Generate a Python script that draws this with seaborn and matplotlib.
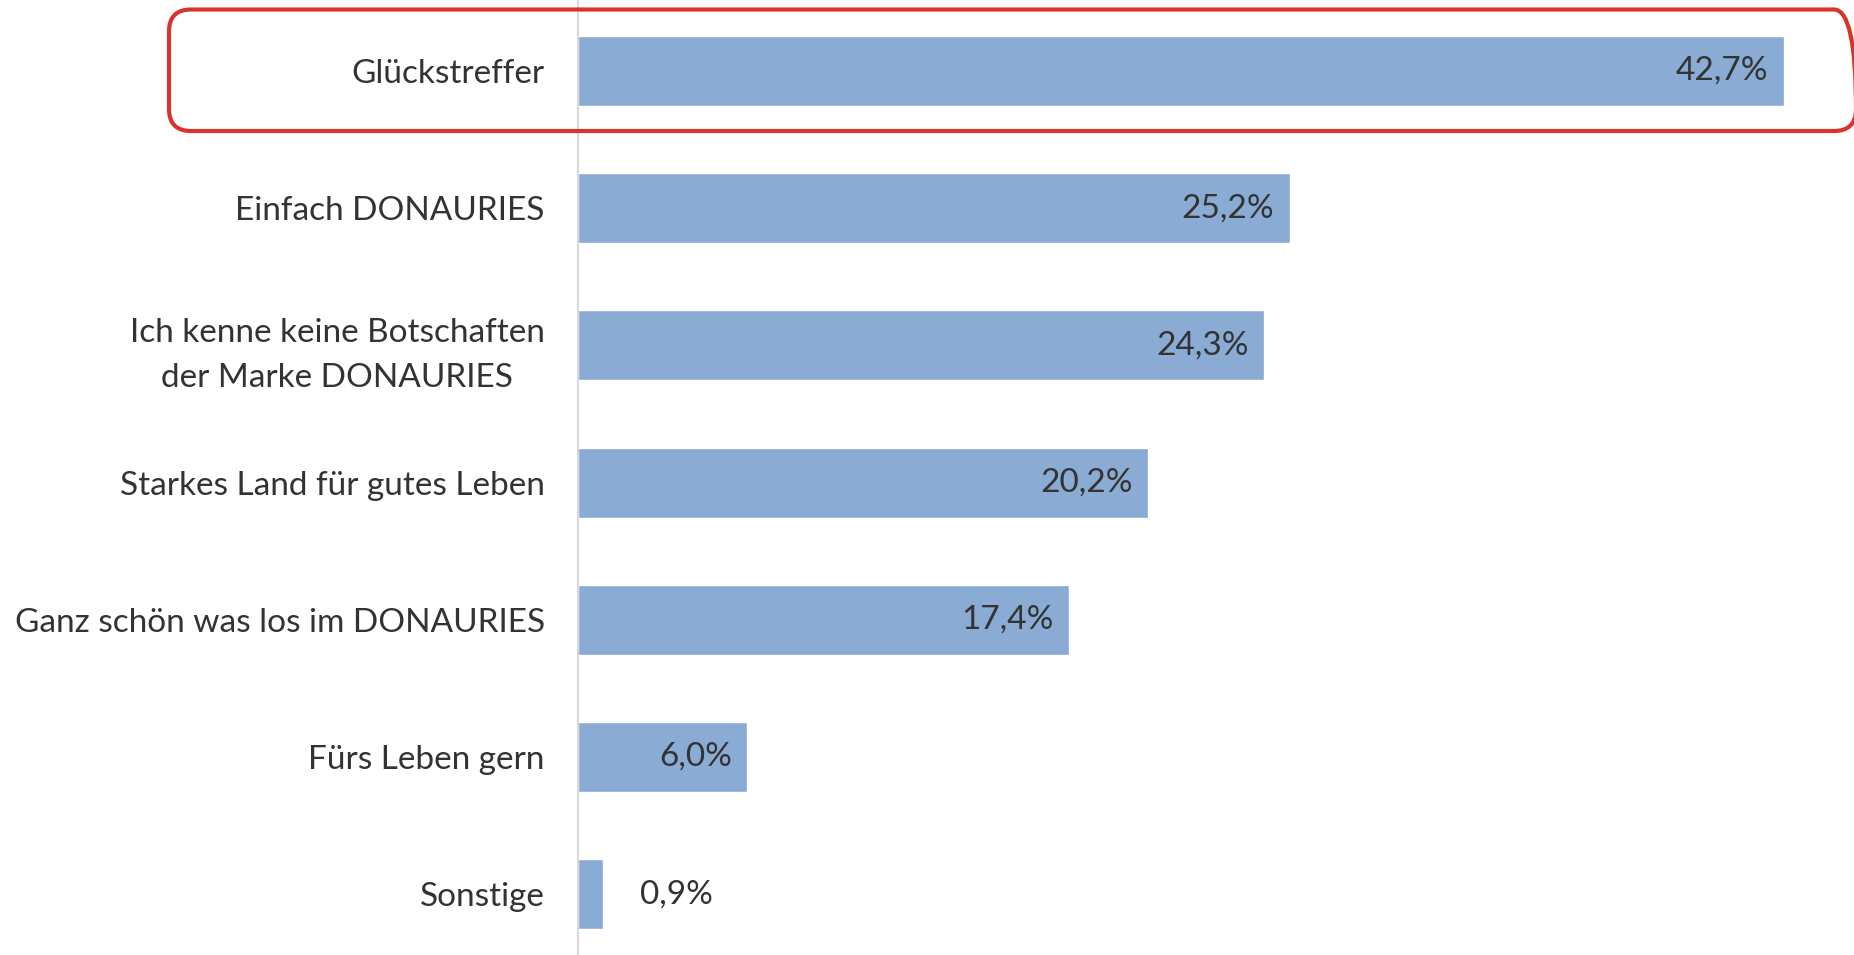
import matplotlib
matplotlib.use("Agg")
import matplotlib.pyplot as plt
import seaborn as sns
import pandas as pd
from matplotlib.patches import FancyBboxPatch

# -------------------- Data --------------------
categories = [
    "Glückstreffer",
    "Einfach DONAURIES",
    "Ich kenne keine Botschaften\nder Marke DONAURIES",
    "Starkes Land für gutes Leben",
    "Ganz schön was los im DONAURIES",
    "Fürs Leben gern",
    "Sonstige",
]
values = [42.7, 25.2, 24.3, 20.2, 17.4, 6.0, 0.9]
value_labels = ["42,7%", "25,2%", "24,3%", "20,2%", "17,4%", "6,0%", "0,9%"]

df = pd.DataFrame({"category": categories, "value": values})

sns.set_style("white")
plt.rcParams["font.family"] = ["Lato", "DejaVu Sans"]

bar_color = "#8aabd3"
text_color = "#333333"
fs = 24

W, H = 1854, 955
fig = plt.figure(figsize=(W / 100, H / 100), dpi=100)
ax = fig.add_axes([578 / W, 0, 1 - 578 / W, 1])

sns.barplot(data=df, y="category", x="value", orient="h", color=bar_color,
            width=0.51, saturation=1, ax=ax)

ax.set_xlim(0, (W - 578) / 28.24)
ax.set_ylim(-0.5175 + H / 137.2, -0.5175)
ax.set_xlabel("")
ax.set_ylabel("")
ax.set_xticks([])
ax.tick_params(axis="y", length=0, pad=24)
for lab in ax.get_yticklabels():
    lab.set_fontsize(fs)
    lab.set_color(text_color)
    lab.set_multialignment("center")
    lab.set_linespacing(1.6)

for s in ["top", "right", "bottom"]:
    ax.spines[s].set_visible(False)
ax.spines["left"].set_color("#d9d9d9")
ax.spines["left"].set_linewidth(1.5)

# -------------------- Value labels --------------------
for i, (v, txt) in enumerate(zip(values, value_labels)):
    if v > 3:
        ax.text(v - 0.55, i, txt, ha="right", va="center", fontsize=fs, color=text_color)
    else:
        ax.text(v + 1.3, i, txt, ha="left", va="center", fontsize=fs, color=text_color)

# -------------------- Highlight box --------------------
box = FancyBboxPatch((1.69, (H - 131) / 100), 16.87, 1.215,
                     boxstyle="round,pad=0,rounding_size=0.22",
                     transform=fig.dpi_scale_trans, fill=False,
                     edgecolor="#d9342b", linewidth=3, clip_on=False)
fig.patches.append(box)

fig.savefig("out.png", dpi=100)
plt.close(fig)
